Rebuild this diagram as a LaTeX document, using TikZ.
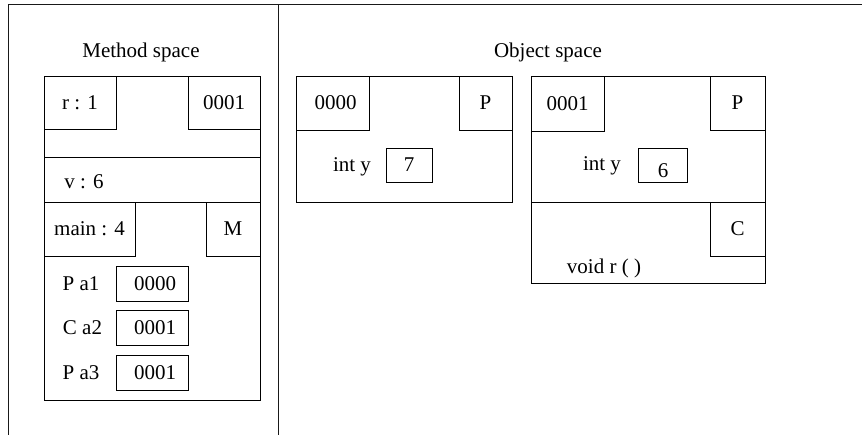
\documentclass[tikz,border=0pt]{standalone}
\usepackage{fontspec}
\setmainfont{Liberation Serif}
\begin{document}
\begin{tikzpicture}[x=1pt,y=-1pt,
  every node/.style={font=\fontsize{21}{24}\selectfont, inner sep=0pt, outer sep=0pt},
  frame/.style={line width=1.5pt, draw=black!90},
  cell/.style={draw, line width=0.9pt, rectangle},
  divider/.style={line width=0.9pt}]
\useasboundingbox (0,0) rectangle (862,435);
% outer frame
\coordinate (fbl) at (8.5,435);
\coordinate (ftl) at (8.5,4.5);
\coordinate (ftr) at (862,4.5);
\coordinate (fmt) at (278.5,4.5);
\coordinate (fmb) at (278.5,435);
\draw[frame] (fbl) -- (ftl) -- (ftr);
\draw[frame] (fmt) -- (fmb);

% titles
\node (mtitle) at (141,52) {Method space};
\node (otitle) at (548,52) {Object space};

% Method space block
\node[cell, minimum width=216, minimum height=324] (mblk) at (152,238) {};
\node[cell, minimum width=72, minimum height=53] (rbox) at (80,102.5) {r : 1};
\node[cell, minimum width=72, minimum height=53] (addr) at (224,102.5) {0001};
\coordinate (d1l) at (44,157);
\coordinate (d1r) at (260,157);
\draw[divider] (d1l) -- (d1r);
\node (v) at (84,182) {v : 6};
\coordinate (d2l) at (44,202);
\coordinate (d2r) at (260,202);
\draw[divider] (d2l) -- (d2r);
\node[cell, minimum width=91, minimum height=54] (mainbox) at (89.5,229) {main : 4};
\node[cell, minimum width=54, minimum height=54] (mbox) at (233,229) {M};
\node (pa1) at (81,284) {P a1};
\node[cell, minimum width=72, minimum height=35] (va1) at (152,283.5) {\hspace{6pt}0000};
\node (ca2) at (82.5,328) {C a2};
\node[cell, minimum width=72, minimum height=35] (va2) at (152,328) {\hspace{6pt}0001};
\node (pa3) at (81,373) {P a3};
\node[cell, minimum width=72, minimum height=35] (va3) at (152,373) {\hspace{6pt}0001};

% Object 1
\node[cell, minimum width=216, minimum height=126] (o1) at (404,139) {};
\node[cell, minimum width=73, minimum height=54] (o1addr) at (332.5,103) {\hspace{6pt}0000};
\node[cell, minimum width=53, minimum height=54] (o1type) at (485.5,103) {P};
\node (o1y) at (352,167) {int y};
\node[cell, minimum width=46, minimum height=34] (o1val) at (409,165) {7};

% Object 2
\node[cell, minimum width=234, minimum height=207] (o2) at (648,179.5) {};
\node[cell, minimum width=73, minimum height=55] (o2addr) at (567.5,103.5) {0001};
\node[cell, minimum width=55, minimum height=54] (o2type) at (737.5,103) {P};
\node (o2y) at (602,166) {int y};
\node[cell, minimum width=49, minimum height=34] (o2val) at (662.5,165) {};
\node (o2valtxt) at (663,171) {6};
\coordinate (d3l) at (531,202);
\coordinate (d3r) at (765,202);
\draw[divider] (d3l) -- (d3r);
\node[cell, minimum width=55, minimum height=54] (cbox) at (737.5,229) {C};
\node (vr) at (604,268) {void r ( )};
\end{tikzpicture}
\end{document}
